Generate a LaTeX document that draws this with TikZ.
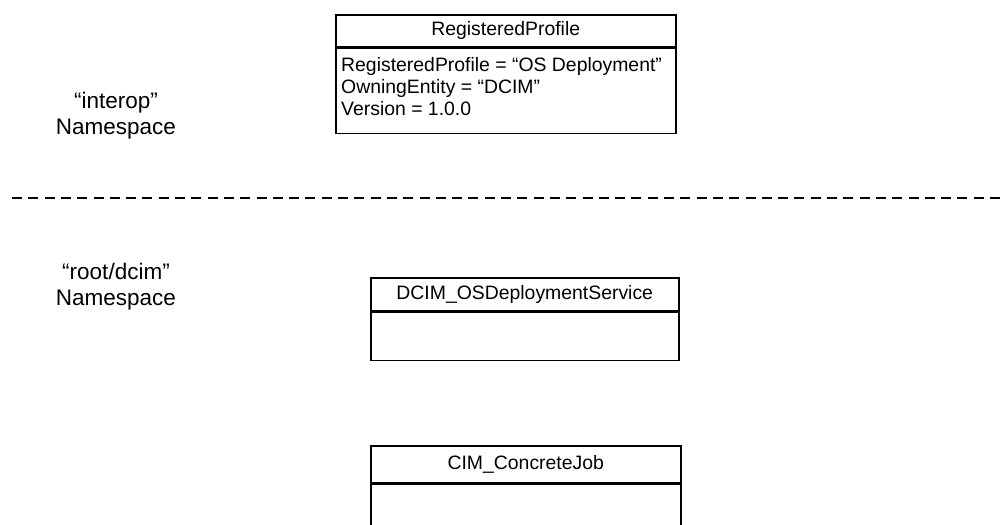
\documentclass[tikz,border=0pt]{standalone}
\usepackage{fontspec}
\setmainfont{Liberation Sans}
\begin{document}
\begin{tikzpicture}[x=1pt,y=-1pt,
  boxpart/.style={draw=black, line width=1.5pt, anchor=north west, inner sep=0pt,
    font=\fontsize{19.4}{22}\selectfont},
  attr/.style={inner sep=0pt, anchor=base west, align=left,
    font=\fontsize{19.4}{22}\selectfont},
  nslabel/.style={inner sep=0pt, align=center, font=\fontsize{22.5}{26}\selectfont},
  sepline/.style={line width=1.5pt, dash pattern=on 10pt off 6.3pt}]
\useasboundingbox (0,0) rectangle (1005,525);
\fill[white] (0,0) rectangle (1005,525);

% namespace labels
\node[nslabel] (nsinterop) at (116,116) {“interop”\\Namespace};
\node[nslabel] (nsroot) at (116,287) {“root/dcim”\\Namespace};

% separator
\coordinate (sepL) at (12,198);
\coordinate (sepR) at (1005,198);
\draw[sepline] (sepL) -- (sepR);

% RegisteredProfile
\node[boxpart, minimum width=340, minimum height=32] (rpH) at (335,14) {RegisteredProfile};
\node[boxpart, minimum width=340, minimum height=85] (rpB) at (rpH.south west) {};
\node[attr] (rpA) at (341,115) {RegisteredProfile = “OS Deployment”\\OwningEntity = “DCIM”\\Version = 1.0.0};

% DCIM_OSDeploymentService
\node[boxpart, minimum width=308, minimum height=33] (osH) at (370,277) {DCIM\_OSDeploymentService};
\node[boxpart, minimum width=308, minimum height=48] (osB) at (osH.south west) {};

% CIM_ConcreteJob
\node[boxpart, minimum width=310, minimum height=37] (cjH) at (370,445) {CIM\_ConcreteJob};
\node[boxpart, minimum width=310, minimum height=46] (cjB) at (cjH.south west) {};
\end{tikzpicture}
\end{document}
